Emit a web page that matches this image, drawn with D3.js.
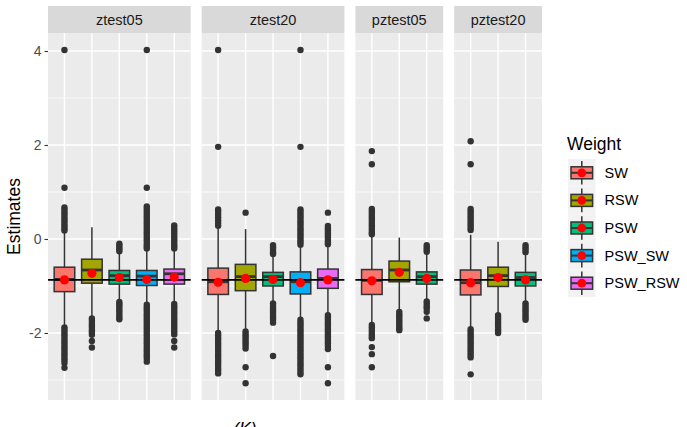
<!DOCTYPE html>
<html>
<head>
<meta charset="utf-8">
<script src="https://cdn.jsdelivr.net/npm/d3@7"></script>
<style>
  body { margin: 0; background: #fff; }
  text { font-family: "Liberation Sans", Arial, sans-serif; }
</style>
</head>
<body>
<div id="chart"></div>
<script>
// facets and fill groups
const panels = ["ztest05", "ztest20", "pztest05", "pztest20"];
const weights = ["SW", "RSW", "PSW", "PSW_SW", "PSW_RSW"];
const weightColors = ["#F8766D", "#A3A500", "#00BF7D", "#00B0F6", "#E76BF3"];

// one entry per box, panel by panel
const boxPanel = ["ztest05", "ztest05", "ztest05", "ztest05", "ztest05",
                  "ztest20", "ztest20", "ztest20", "ztest20", "ztest20",
                  "pztest05", "pztest05", "pztest05",
                  "pztest20", "pztest20", "pztest20"];
const boxWeight = ["SW", "RSW", "PSW", "PSW_SW", "PSW_RSW",
                   "SW", "RSW", "PSW", "PSW_SW", "PSW_RSW",
                   "SW", "RSW", "PSW",
                   "SW", "RSW", "PSW"];
const lowerWhisker = [-1.84, -1.65, -1.31, -1.37, -1.35,  -1.97, -1.94, -1.33, -1.69, -1.58,  -1.79, -1.51, -1.30,  -1.87, -1.58, -1.36];
const q1 =           [-1.12, -0.94, -0.96, -0.99, -0.96,  -1.18, -1.10, -1.00, -1.17, -1.05,  -1.18, -0.91, -0.96,  -1.19, -1.01, -1.00];
const medians =      [-0.86, -0.66, -0.78, -0.79, -0.74,  -0.91, -0.80, -0.80, -0.91, -0.84,  -0.88, -0.66, -0.80,  -0.93, -0.78, -0.82];
const q3 =           [-0.60, -0.43, -0.67, -0.67, -0.64,  -0.62, -0.54, -0.71, -0.70, -0.64,  -0.65, -0.47, -0.70,  -0.66, -0.60, -0.71];
const upperWhisker = [ 0.14,  0.25, -0.30, -0.23, -0.23,   0.23,  0.21, -0.34, -0.15, -0.13,   0.05,  0.03, -0.30,   0.09, -0.06, -0.34];
const means =        [-0.87, -0.73, -0.82, -0.86, -0.81,  -0.92, -0.84, -0.86, -0.93, -0.87,  -0.89, -0.71, -0.84,  -0.93, -0.82, -0.87];
const outliers = [
  // ztest05
  [4.02, 1.09, 0.67, 0.62, 0.57, 0.52, 0.47, 0.42, 0.37, 0.32, 0.27, 0.22, 0.18,
   -1.88, -1.93, -1.98, -2.03, -2.08, -2.13, -2.18, -2.23, -2.28, -2.33, -2.38, -2.43, -2.48, -2.53, -2.58, -2.64, -2.74],
  [-1.69, -1.74, -1.79, -1.84, -1.89, -1.94, -1.99, -2.04, -2.17, -2.31],
  [-0.10, -0.14, -0.18, -0.22, -0.26, -1.34, -1.38, -1.42, -1.47, -1.52, -1.57, -1.62, -1.67, -1.71],
  [4.02, 1.09, 0.69, 0.64, 0.59, 0.54, 0.49, 0.44, 0.39, 0.34, 0.29, 0.24, 0.19, 0.14, 0.09, 0.04, -0.01, -0.06, -0.11, -0.16, -0.20,
   -1.40, -1.45, -1.50, -1.55, -1.60, -1.65, -1.70, -1.75, -1.80, -1.85, -1.90, -1.95, -2.00, -2.05, -2.10, -2.15, -2.20, -2.25, -2.30, -2.35, -2.40, -2.45, -2.50, -2.55, -2.61],
  [0.29, 0.24, 0.19, 0.14, 0.09, 0.04, -0.01, -0.06, -0.11, -0.16, -0.20,
   -1.38, -1.43, -1.48, -1.53, -1.58, -1.63, -1.68, -1.73, -1.78, -1.83, -1.88, -1.93, -1.98, -2.03, -2.17, -2.31],
  // ztest20
  [4.02, 1.96, 0.63, 0.58, 0.52, 0.46, 0.40, 0.34, 0.28,
   -2.00, -2.05, -2.10, -2.15, -2.20, -2.25, -2.30, -2.35, -2.40, -2.45, -2.50, -2.55, -2.60, -2.65, -2.70, -2.76, -2.81, -2.86],
  [0.56, -1.97, -2.02, -2.07, -2.12, -2.17, -2.22, -2.27, -2.33, -2.73, -3.07],
  [-0.13, -0.18, -0.23, -0.28, -0.32, -1.37, -1.42, -1.47, -1.52, -1.57, -1.62, -1.67, -1.72, -1.78, -2.49],
  [4.02, 1.96, 0.63, 0.58, 0.53, 0.48, 0.43, 0.38, 0.33, 0.28, 0.23, 0.18, 0.13, 0.08, 0.03, -0.02, -0.07, -0.12,
   -1.72, -1.77, -1.82, -1.87, -1.92, -1.97, -2.02, -2.07, -2.12, -2.17, -2.22, -2.27, -2.32, -2.37, -2.42, -2.47, -2.52, -2.57, -2.62, -2.67, -2.72, -2.77, -2.83, -2.88],
  [0.56, 0.28, 0.23, 0.18, 0.13, 0.08, 0.03, -0.02, -0.07, -0.11,
   -1.62, -1.67, -1.72, -1.77, -1.82, -1.87, -1.92, -1.97, -2.02, -2.07, -2.12, -2.17, -2.22, -2.27, -2.34, -2.73, -3.07],
  // pztest05
  [1.87, 1.59, 0.64, 0.59, 0.54, 0.49, 0.44, 0.39, 0.34, 0.29, 0.24, 0.19, 0.14, 0.10,
   -1.83, -1.88, -1.93, -1.98, -2.03, -2.08, -2.11, -2.30, -2.45, -2.73],
  [-1.55, -1.60, -1.65, -1.70, -1.75, -1.80, -1.85, -1.90, -1.94],
  [-0.13, -0.18, -0.23, -0.27, -1.33, -1.38, -1.43, -1.48, -1.55, -1.69],
  // pztest20
  [2.08, 1.59, 0.64, 0.59, 0.54, 0.49, 0.44, 0.39, 0.34, 0.29, 0.24, 0.19,
   -1.92, -1.97, -2.02, -2.07, -2.12, -2.17, -2.22, -2.27, -2.32, -2.37, -2.42, -2.47, -2.52, -2.88],
  [-1.62, -1.67, -1.72, -1.77, -1.82, -1.87, -1.92, -1.96, -2.00],
  [-0.13, -0.18, -0.23, -0.28, -1.37, -1.42, -1.47, -1.52, -1.57, -1.62, -1.67, -1.72]
];
const referenceLine = -0.87;
const yTicks = [-2, 0, 2, 4];
const yMinor = [-3, -1, 1, 3];

const width = 687, height = 427;
const plotLeft = 48, plotRight = 542, panelGap = 11;
const stripTop = 6, plotTop = 33, plotBottom = 400;
const ink = "#333333";

const svg = d3.select("#chart").append("svg")
    .attr("width", width)
    .attr("height", height);

const color = d3.scaleOrdinal().domain(weights).range(weightColors);
const y = d3.scaleLinear().domain([-3.426, 4.383]).range([plotBottom, plotTop]);

// free x scales, panel width proportional to number of boxes
const counts = panels.map(p => boxPanel.filter(b => b === p).length);
const unit = (plotRight - plotLeft - panelGap * (panels.length - 1)) / d3.sum(counts, n => n + 0.2);
let cursor = plotLeft;
const panelRange = counts.map(n => {
    const r = [cursor, cursor + (n + 0.2) * unit];
    cursor = r[1] + panelGap;
    return r;
});

const boxes = boxPanel.map((p, i) => ({
    panel: p, weight: boxWeight[i],
    lo: lowerWhisker[i], q1: q1[i], med: medians[i], q3: q3[i], hi: upperWhisker[i],
    mean: means[i], out: outliers[i]
}));

panels.forEach((p, pi) => {
    const [x0, x1] = panelRange[pi];
    const cats = boxes.filter(b => b.panel === p).map(b => b.weight);
    const x = d3.scalePoint().domain(cats).range([x0, x1]).padding(0.6);
    const bw = x.step() * 0.75;
    const g = svg.append("g");

    // strip
    g.append("rect").attr("x", x0).attr("y", stripTop)
        .attr("width", x1 - x0).attr("height", plotTop - stripTop).attr("fill", "#D9D9D9");
    g.append("text").attr("x", (x0 + x1) / 2).attr("y", (stripTop + plotTop) / 2 + 5)
        .attr("text-anchor", "middle").attr("font-size", 14.5).attr("fill", "#1A1A1A").text(p);

    // panel background + grid
    g.append("rect").attr("x", x0).attr("y", plotTop)
        .attr("width", x1 - x0).attr("height", plotBottom - plotTop).attr("fill", "#EBEBEB");
    g.selectAll(".minor").data(yMinor).enter().append("line")
        .attr("x1", x0).attr("x2", x1).attr("y1", d => y(d)).attr("y2", d => y(d))
        .attr("stroke", "#fff").attr("stroke-width", 0.7);
    g.selectAll(".major").data(yTicks).enter().append("line")
        .attr("x1", x0).attr("x2", x1).attr("y1", d => y(d)).attr("y2", d => y(d))
        .attr("stroke", "#fff").attr("stroke-width", 1.4);
    g.selectAll(".vgrid").data(cats).enter().append("line")
        .attr("x1", d => x(d)).attr("x2", d => x(d)).attr("y1", plotTop).attr("y2", plotBottom)
        .attr("stroke", "#fff").attr("stroke-width", 1.4);

    const data = boxes.filter(b => b.panel === p);

    // outliers
    data.forEach(b => {
        g.selectAll(null).data(b.out).enter().append("circle")
            .attr("cx", x(b.weight)).attr("cy", d => y(d)).attr("r", 3.2)
            .attr("fill", ink);
    });

    // whiskers
    const bx = g.selectAll(".box").data(data).enter().append("g");
    bx.append("line").attr("x1", d => x(d.weight)).attr("x2", d => x(d.weight))
        .attr("y1", d => y(d.hi)).attr("y2", d => y(d.q3)).attr("stroke", ink).attr("stroke-width", 1.5);
    bx.append("line").attr("x1", d => x(d.weight)).attr("x2", d => x(d.weight))
        .attr("y1", d => y(d.q1)).attr("y2", d => y(d.lo)).attr("stroke", ink).attr("stroke-width", 1.5);
    bx.append("rect")
        .attr("x", d => x(d.weight) - bw / 2).attr("width", bw)
        .attr("y", d => y(d.q3)).attr("height", d => y(d.q1) - y(d.q3))
        .attr("fill", d => color(d.weight)).attr("stroke", ink).attr("stroke-width", 1.5);
    bx.append("line").attr("x1", d => x(d.weight) - bw / 2).attr("x2", d => x(d.weight) + bw / 2)
        .attr("y1", d => y(d.med)).attr("y2", d => y(d.med)).attr("stroke", ink).attr("stroke-width", 2.8);

    // reference line
    g.append("line").attr("x1", x0).attr("x2", x1)
        .attr("y1", y(referenceLine)).attr("y2", y(referenceLine))
        .attr("stroke", "#000").attr("stroke-width", 1.6);

    // means
    g.selectAll(".mean").data(data).enter().append("circle")
        .attr("cx", d => x(d.weight)).attr("cy", d => y(d.mean)).attr("r", 4.6)
        .attr("fill", "#FF0000");
});

// y axis
const yAxis = svg.append("g").attr("transform", `translate(${plotLeft},0)`)
    .call(d3.axisLeft(y).tickValues(yTicks).tickSize(3.5).tickPadding(3).tickFormat(d => String(d)));
yAxis.select(".domain").remove();
yAxis.selectAll(".tick line").attr("stroke", ink).attr("stroke-width", 1.1);
yAxis.selectAll(".tick text").attr("font-size", 14).attr("fill", "#4D4D4D")
    .attr("font-family", "Liberation Sans, Arial, sans-serif");

svg.append("text")
    .attr("transform", `translate(20,${(plotTop + plotBottom) / 2}) rotate(-90)`)
    .attr("text-anchor", "middle").attr("font-size", 17.5).attr("fill", "#000")
    .text("Estimates");

// x title (cut off at the bottom edge)
svg.append("text").attr("x", 245).attr("y", 435)
    .attr("text-anchor", "middle").attr("font-size", 17.5).attr("font-style", "italic")
    .attr("fill", "#000").text("(K)");

// legend
const legX = 568, legY = 159, keySize = 27.6;
svg.append("text").attr("x", legX - 1).attr("y", 150).attr("font-size", 17.5).text("Weight");
const leg = svg.selectAll(".key").data(weights).enter().append("g")
    .attr("transform", (d, i) => `translate(${legX},${legY + i * keySize})`);
leg.append("rect").attr("width", keySize).attr("height", keySize).attr("fill", "#F2F2F2");
leg.append("line").attr("x1", keySize / 2).attr("x2", keySize / 2)
    .attr("y1", 2).attr("y2", keySize - 2).attr("stroke", ink).attr("stroke-width", 1.5);
leg.append("rect").attr("x", 3).attr("y", keySize / 2 - 6).attr("width", keySize - 6).attr("height", 12)
    .attr("fill", d => color(d)).attr("stroke", ink).attr("stroke-width", 1.5);
leg.append("line").attr("x1", 3).attr("x2", keySize - 3)
    .attr("y1", keySize / 2).attr("y2", keySize / 2).attr("stroke", ink).attr("stroke-width", 2);
leg.append("circle").attr("cx", keySize / 2).attr("cy", keySize / 2).attr("r", 4.4).attr("fill", "#FF0000");
leg.append("text").attr("x", keySize + 9).attr("y", keySize / 2 + 5)
    .attr("font-size", 14.5).attr("fill", "#000").text(d => d);
</script>
</body>
</html>
